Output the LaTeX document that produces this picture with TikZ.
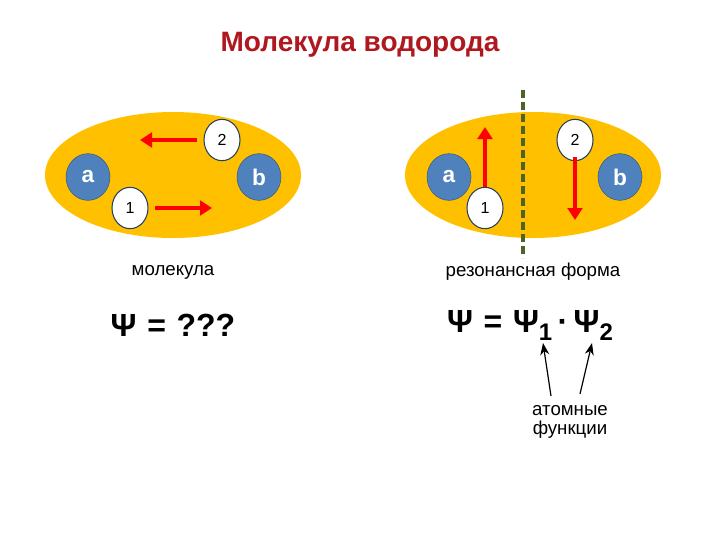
\documentclass[tikz,border=0pt]{standalone}
\usepackage{fontspec}
\setmainfont{Liberation Sans}
\usetikzlibrary{arrows.meta,shapes.geometric}
\definecolor{gold}{HTML}{FFC000}
\definecolor{atomblue}{HTML}{4F81BD}
\definecolor{titlered}{HTML}{B01820}
\definecolor{olive}{HTML}{4F6228}
\begin{document}
\begin{tikzpicture}[x=0.75pt,y=-0.75pt,
  cloud/.style={fill=gold,draw=none},
  atom/.style={ellipse,fill=atomblue,draw=atomblue!70!black,minimum width=33pt,minimum height=35pt,inner sep=0pt,text=white,font=\bfseries\fontsize{17}{17}\selectfont},
  elec/.style={ellipse,fill=white,draw=atomblue!50!black,thick,minimum width=27pt,minimum height=31pt,inner sep=0pt,font=\fontsize{12}{12}\selectfont},
  move/.style={-{Triangle[length=9pt,width=11pt]},red,line width=2.8pt},
  lbl/.style={font=\fontsize{14}{14}\selectfont},
  thin/.style={-{Stealth[length=9pt]},line width=0.9pt}]
\useasboundingbox (0,0) rectangle (720,540);
\node[font=\bfseries\fontsize{21}{21}\selectfont,text=titlered] (title) at (360,45) {Молекула водорода};
% left
\fill[cloud] (173,175) ellipse [x radius=128, y radius=63];
\node[atom] (a1) at (88,177) {a};
\node[atom] (b1) at (259,177) {b};
\node[elec] (e2l) at (222,140) {2};
\node[elec] (e1l) at (130,208) {1};
\coordinate (l2end) at (140,140);
\coordinate (l1end) at (212,208);
\draw[move] (e2l.west) ++(-6,0) -- (l2end);
\draw[move] (e1l.east) ++(6,0) -- (l1end);
% right
\fill[cloud] (533,175) ellipse [x radius=128, y radius=63];
\node[atom] (a2) at (449,177) {a};
\node[atom] (b2) at (620,177) {b};
\node[elec] (e1r) at (485,208) {1};
\node[elec] (e2r) at (575,140) {2};
\coordinate (r1end) at (485,127);
\coordinate (r2end) at (575,220);
\draw[move] (e1r.north) -- (r1end);
\draw[move] (e2r.south) ++(0,-4) -- (r2end);
\coordinate (d1) at (523,90);
\coordinate (d2) at (523,258);
\draw[olive,line width=3pt,dash pattern=on 6pt off 3pt] (d1) -- (d2);
% labels
\node[lbl] (m) at (173,272) {молекула};
\node[lbl] (r) at (533,272) {резонансная форма};
\node[font=\bfseries\fontsize{24}{24}\selectfont] (psi1) at (173,325) {Ψ\,\,=\,\,???};
\node[font=\bfseries\fontsize{24}{24}\selectfont] (psi2) at (530,325) {Ψ\,\,=\,\,Ψ\raisebox{-6pt}{\fontsize{18}{18}\selectfont 1}\,·\,Ψ\raisebox{-6pt}{\fontsize{18}{18}\selectfont 2}};
\node[lbl,align=center] (af) at (570,422) {атомные\\функции};
\coordinate (t1) at (543,343);
\coordinate (t2) at (592,343);
\coordinate (s1) at (551,396);
\coordinate (s2) at (580,394);
\draw[thin] (s1) -- (t1);
\draw[thin] (s2) -- (t2);
\end{tikzpicture}
\end{document}
